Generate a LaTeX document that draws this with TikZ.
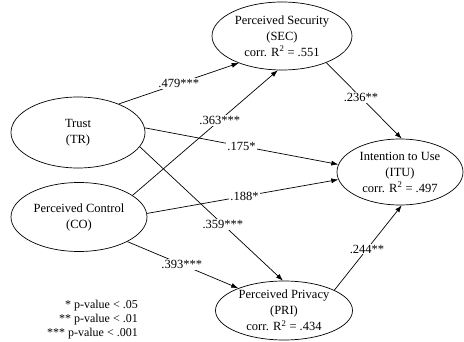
\documentclass[tikz,border=0pt]{standalone}
\usepackage{fontspec}
\setmainfont{Liberation Serif}
\usetikzlibrary{shapes.geometric,arrows.meta}

\begin{document}
\begin{tikzpicture}[x=1pt,y=1pt,
    construct/.style={draw,ellipse,line width=0.7pt,inner sep=0pt,align=center,
        font=\fontsize{12.5}{16}\selectfont},
    effect/.style={line width=0.7pt,-{Latex[length=7pt,width=5pt]}},
    coef/.style={fill=white,inner sep=1pt,font=\fontsize{12.5}{15}\selectfont}]

    % Frame
    \useasboundingbox (0,0) rectangle (464,341);

    % Constructs
    \node[construct,minimum width=134pt,minimum height=71pt] (tr) at (78,208.5) {Trust\\(TR)};
    \node[construct,minimum width=136pt,minimum height=69pt] (co) at (79,124) {Perceived Control\\(CO)};
    \node[construct,minimum width=140pt,minimum height=68pt] (sec) at (282,305) {Perceived Security\\(SEC)\\corr. R\textsuperscript{2} = .551};
    \node[construct,minimum width=126pt,minimum height=66pt] (itu) at (400,169) {Intention to Use\\(ITU)\\corr. R\textsuperscript{2} = .497};
    \node[construct,minimum width=137pt,minimum height=59pt] (pri) at (284,30.5) {Perceived Privacy\\(PRI)\\corr. R\textsuperscript{2} = .434};

    % Paths
    \draw[effect] (tr.35) -- node[coef,pos=0.5] {.479***} (sec.212);
    \draw[effect] (co.22) -- node[coef,pos=0.6] {.363***} (sec.263);
    \draw[effect] (tr.4) -- node[coef,pos=0.5] {.175*} (itu.173);
    \draw[effect] (co.3) -- node[coef,pos=0.51] {.188*} (itu.187);
    \draw[effect] (tr.-13) -- node[coef,pos=0.58] {.359***} (pri.92);
    \draw[effect] (co.-27) -- node[coef,pos=0.49] {.393***} (pri.154);
    \draw[effect] (sec.-31) -- node[coef,pos=0.46] {.236**} (itu.87);
    \draw[effect] (pri.22) -- node[coef,pos=0.485] {.244**} (itu.273);

    % Significance levels
    \node[anchor=east,align=right,inner sep=0pt,font=\fontsize{12}{14}\selectfont] (legend) at (138,21)
        {* p-value < .05\\** p-value < .01\\*** p-value < .001};

\end{tikzpicture}
\end{document}
